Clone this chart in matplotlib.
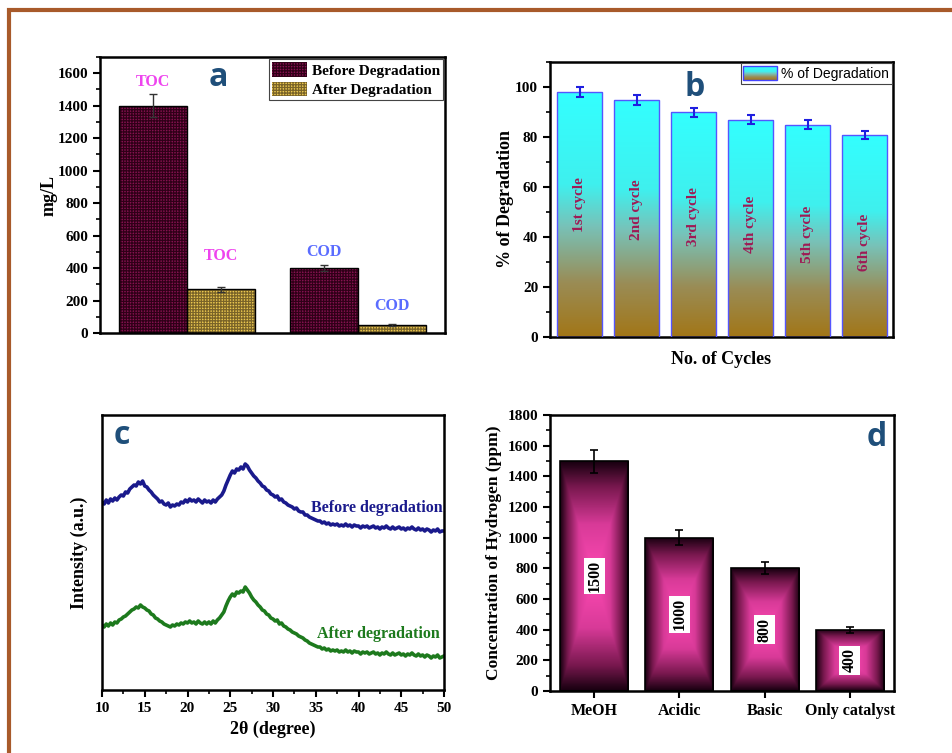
import numpy as np
import matplotlib
matplotlib.use("Agg")
import matplotlib.pyplot as plt
from matplotlib.colors import LinearSegmentedColormap
from matplotlib.patches import Rectangle, Patch
from matplotlib.ticker import MultipleLocator, NullLocator
from matplotlib.legend_handler import HandlerBase

plt.rcParams['font.family'] = ['Liberation Serif', 'DejaVu Serif']
plt.rcParams['font.weight'] = 'bold'
plt.rcParams['axes.labelweight'] = 'bold'
plt.rcParams['hatch.linewidth'] = 0.9

# ---- panel a : TOC / COD
groups = ['TOC', 'COD']
before_vals = [1400, 400]
before_err = [70, 20]
after_vals = [270, 50]
after_err = [15, 5]
before_tag_y = [1545, 498]
after_tag_y = [474, 166]
tag_colors = ['#ee44ee', '#5a6cff']

# ---- panel b : recycling
cycles = ['1st cycle', '2nd cycle', '3rd cycle', '4th cycle', '5th cycle', '6th cycle']
degradation = [98, 95, 90, 87, 85, 81]
degradation_err = [2.0, 2.0, 1.8, 1.8, 1.8, 1.6]
cycle_tag_y = [53, 51, 48, 45, 41, 38]

# ---- panel c : XRD patterns (0.25 deg step)
xrd_before = [
    188, 186, 190, 187, 191, 189, 192, 190, 193, 195, 194, 198, 197, 201, 203, 205,
    204, 208, 206, 209, 204, 203, 200, 198, 195, 193, 191, 188, 189, 186, 185, 187,
    183, 185, 184, 186, 185, 188, 187, 190, 188, 191, 189, 190, 188, 191, 189, 187,
    190, 188, 189, 187, 190, 188, 191, 193, 195, 199, 205, 210, 215, 219, 217, 221,
    220, 223, 221, 226, 224, 220, 217, 214, 212, 209, 207, 204, 203, 200, 199, 196,
    195, 193, 194, 190, 191, 188, 187, 185, 184, 183, 181, 182, 179, 178, 178, 175,
    175, 173, 172, 171, 170, 169, 169, 167, 168, 166, 167, 165, 166, 165, 166, 164,
    165, 164, 166, 164, 165, 163, 165, 164, 164, 162, 164, 163, 164, 162, 163, 164,
    162, 163, 161, 163, 162, 164, 162, 161, 163, 161, 162, 163, 161, 162, 160, 162,
    161, 163, 161, 160, 162, 160, 161, 159, 161, 160, 158, 160, 159, 161, 158, 159,
    159]
xrd_after = [
    65, 63, 66, 64, 67, 65, 68, 67, 70, 71, 73, 74, 76, 78, 80, 81,
    83, 82, 85, 83, 82, 80, 79, 76, 75, 72, 71, 69, 68, 66, 65, 64,
    63, 65, 64, 66, 65, 67, 66, 68, 67, 69, 67, 68, 66, 69, 67, 66,
    68, 66, 68, 66, 69, 67, 70, 72, 75, 78, 84, 89, 93, 96, 94, 98,
    97, 99, 98, 103, 100, 97, 93, 90, 88, 85, 83, 80, 79, 76, 75, 72,
    71, 69, 70, 66, 67, 64, 63, 61, 60, 58, 57, 56, 54, 53, 52, 50,
    49, 47, 46, 45, 44, 43, 43, 41, 42, 40, 41, 39, 40, 39, 40, 38,
    39, 38, 40, 38, 39, 37, 39, 38, 38, 36, 38, 37, 38, 36, 37, 38,
    36, 37, 35, 37, 36, 38, 36, 35, 37, 35, 36, 37, 35, 36, 34, 36,
    35, 37, 35, 34, 36, 34, 35, 33, 35, 34, 32, 34, 33, 35, 32, 33,
    34]

# ---- panel d : hydrogen
media = ['MeOH', 'Acidic', 'Basic', 'Only catalyst']
hydrogen = [1500, 1000, 800, 400]
hydrogen_err = [75, 50, 40, 20]

W, H = 953, 753
fig = plt.figure(figsize=(W / 100, H / 100), dpi=100)


def px_axes(l, t, r, b):
    return fig.add_axes([l / W, 1 - b / H, (r - l) / W, (b - t) / H])


def style(ax):
    for s in ax.spines.values():
        s.set_linewidth(1.8)
    ax.tick_params(which='major', direction='out', length=5, width=1.5, labelsize=11)
    ax.tick_params(which='minor', direction='out', length=3, width=1.2)


def panel_letter(ax, x, y, s):
    ax.text(x, y, s, transform=ax.transAxes, ha='center', va='center',
            fontsize=23, fontweight='bold', family='Open Sans', color='#1f4f7a')


# outer brown frame
fig.patches.append(Rectangle((9.5 / W, -0.1), 1.1, 1.1 - 10.3 / H, transform=fig.transFigure,
                             fill=False, edgecolor='#a85a2a', linewidth=3))

# ================= a
ax = px_axes(100, 57, 445, 333)
style(ax)
gx = np.arange(1, len(groups) + 1)
bw = 0.4
ax.bar(gx - bw / 2, before_vals, bw, color='#861250', edgecolor='#300018', hatch='++++++',
       linewidth=0, label='Before Degradation')
ax.bar(gx + bw / 2, after_vals, bw, color='#ecc850', edgecolor='#7a6428', hatch='++++++',
       linewidth=0, label='After Degradation')
ax.bar(gx - bw / 2, before_vals, bw, fill=False, edgecolor='black', linewidth=1)
ax.bar(gx + bw / 2, after_vals, bw, fill=False, edgecolor='black', linewidth=1)
ax.errorbar(gx - bw / 2, before_vals, yerr=before_err, fmt='none', ecolor='#333333',
            elinewidth=1, capsize=3)
ax.errorbar(gx + bw / 2, after_vals, yerr=after_err, fmt='none', ecolor='#333333',
            elinewidth=1, capsize=3)
for i, g in enumerate(groups):
    ax.text(gx[i] - bw / 2, before_tag_y[i], g, ha='center', va='center', fontsize=11.5,
            color=tag_colors[i])
    ax.text(gx[i] + bw / 2, after_tag_y[i], g, ha='center', va='center', fontsize=11.5,
            color=tag_colors[i])
ax.set_xlim(0.49, 2.51)
ax.set_ylim(0, 1700)
ax.yaxis.set_major_locator(MultipleLocator(200))
ax.yaxis.set_minor_locator(MultipleLocator(100))
ax.xaxis.set_major_locator(NullLocator())
ax.set_ylabel('mg/L', fontsize=13, labelpad=0)
leg = ax.legend(loc='upper right', fontsize=11, fancybox=False, framealpha=1,
                edgecolor='#444444', borderaxespad=0.15, borderpad=0.2, labelspacing=0.25,
                handlelength=2.3, handleheight=1.1, handletextpad=0.3)
leg.get_frame().set_linewidth(0.8)
panel_letter(ax, 0.342, 0.924, 'a')

# ================= b
cmap_b = LinearSegmentedColormap.from_list('b', [(0, '#a27617'), (0.22, '#9a8c55'),
                                                 (0.45, '#78c2b8'), (0.62, '#3ff0ee'),
                                                 (1, '#33ffff')])


class GradientHandler(HandlerBase):
    def create_artists(self, legend, orig_handle, xdescent, ydescent, width, height,
                       fontsize, trans):
        n = 14
        arts = []
        for i in range(n):
            arts.append(Rectangle((-xdescent, -ydescent + height * i / n), width,
                                  height / n * 1.05, facecolor=cmap_b((i + 0.5) / n),
                                  edgecolor='none', transform=trans))
        arts.append(Rectangle((-xdescent, -ydescent), width, height, facecolor='none',
                              edgecolor='#4444ff', linewidth=1, transform=trans))
        return arts


ax = px_axes(550, 62, 893, 337)
style(ax)
cx = np.arange(1, len(cycles) + 1)
bars = ax.bar(cx, degradation, 0.8, facecolor='none', edgecolor='#5555ff', linewidth=1, zorder=3)
grad = np.linspace(0, 1, 256).reshape(-1, 1)
for bar in bars:
    im = ax.imshow(grad, cmap=cmap_b, origin='lower', aspect='auto', zorder=2,
                   extent=[bar.get_x(), bar.get_x() + bar.get_width(), 0, bar.get_height()])
    im.set_clip_path(bar)
ax.errorbar(cx, degradation, yerr=degradation_err, fmt='none', ecolor='#1f1fe0',
            elinewidth=1.5, capsize=3, capthick=1.5, zorder=4)
for i, c in enumerate(cycles):
    ax.text(cx[i], cycle_tag_y[i], c, rotation=90, ha='center', va='center', fontsize=11,
            color='#9e1a55', zorder=5)
ax.set_xlim(0.48, 6.5)
ax.set_ylim(0, 110)
ax.yaxis.set_major_locator(MultipleLocator(20))
ax.yaxis.set_minor_locator(MultipleLocator(10))
ax.xaxis.set_major_locator(NullLocator())
ax.set_ylabel('% of Degradation', fontsize=13, labelpad=1)
ax.set_xlabel('No. of Cycles', fontsize=13, labelpad=10)
leg = ax.legend([Patch()], ['% of Degradation'], handler_map={Patch: GradientHandler()},
                loc='upper right', prop={'family': 'Liberation Sans', 'weight': 'normal', 'size': 10},
                fancybox=False, framealpha=1, edgecolor='#444444', borderaxespad=0.1,
                borderpad=0.2, handlelength=2.4, handleheight=1.2, handletextpad=0.3)
leg.get_frame().set_linewidth(0.8)
panel_letter(ax, 0.423, 0.909, 'b')

# ================= c
ax = px_axes(102, 415, 444, 690)
style(ax)
theta = np.linspace(10, 50, len(xrd_before))
ax.plot(theta, xrd_before, color='#1a1a8c', linewidth=2.6)
ax.plot(theta, xrd_after, color='#1d7a1d', linewidth=2.6)
ax.text(49.8, 182, 'Before degradation', ha='right', va='center', fontsize=11.5, color='#1a1a8c')
ax.text(49.5, 56, 'After degradation', ha='right', va='center', fontsize=11.5, color='#1d7a1d')
ax.set_xlim(10, 50)
ax.set_ylim(0, 275)
ax.xaxis.set_major_locator(MultipleLocator(5))
ax.xaxis.set_minor_locator(MultipleLocator(2.5))
ax.yaxis.set_major_locator(NullLocator())
ax.set_xlabel('2θ (degree)', fontsize=13, labelpad=4)
ax.set_ylabel('Intensity (a.u.)', fontsize=13, labelpad=10)
panel_letter(ax, 0.058, 0.927, 'c')

# ================= d
cmap_d = LinearSegmentedColormap.from_list('d', [(0, '#ff4ab4'), (0.45, '#d83a98'),
                                                 (0.78, '#78184e'), (1, '#180010')])
ax = px_axes(550, 415, 894, 691)
style(ax)
mx = np.arange(len(media))
bars = ax.bar(mx, hydrogen, 0.8, facecolor='none', edgecolor='black', linewidth=1.2, zorder=3)
u = np.linspace(-1, 1, 200)
box = np.maximum(np.abs(u)[None, :], np.abs(u)[:, None])
for bar in bars:
    im = ax.imshow(box, cmap=cmap_d, origin='lower', aspect='auto', zorder=2,
                   extent=[bar.get_x(), bar.get_x() + bar.get_width(), 0, bar.get_height()])
    im.set_clip_path(bar)
ax.errorbar(mx, hydrogen, yerr=hydrogen_err, fmt='none', ecolor='black', elinewidth=1.2,
            capsize=3, capthick=1.2, zorder=4)
for i, v in enumerate(hydrogen):
    ax.text(mx[i], v / 2, str(v), rotation=90, ha='center', va='center', fontsize=11.5,
            color='black', zorder=5,
            bbox=dict(boxstyle='square,pad=0.15', facecolor='white', edgecolor='none'))
ax.set_xlim(-0.52, 3.52)
ax.set_ylim(0, 1800)
ax.set_xticks(mx)
ax.set_xticklabels(media, fontsize=11.5)
ax.yaxis.set_major_locator(MultipleLocator(200))
ax.yaxis.set_minor_locator(MultipleLocator(100))
ax.set_ylabel('Concentration of Hydrogen (ppm)', fontsize=12.5, labelpad=4)
panel_letter(ax, 0.95, 0.917, 'd')

fig.savefig('out.png', dpi=100)
